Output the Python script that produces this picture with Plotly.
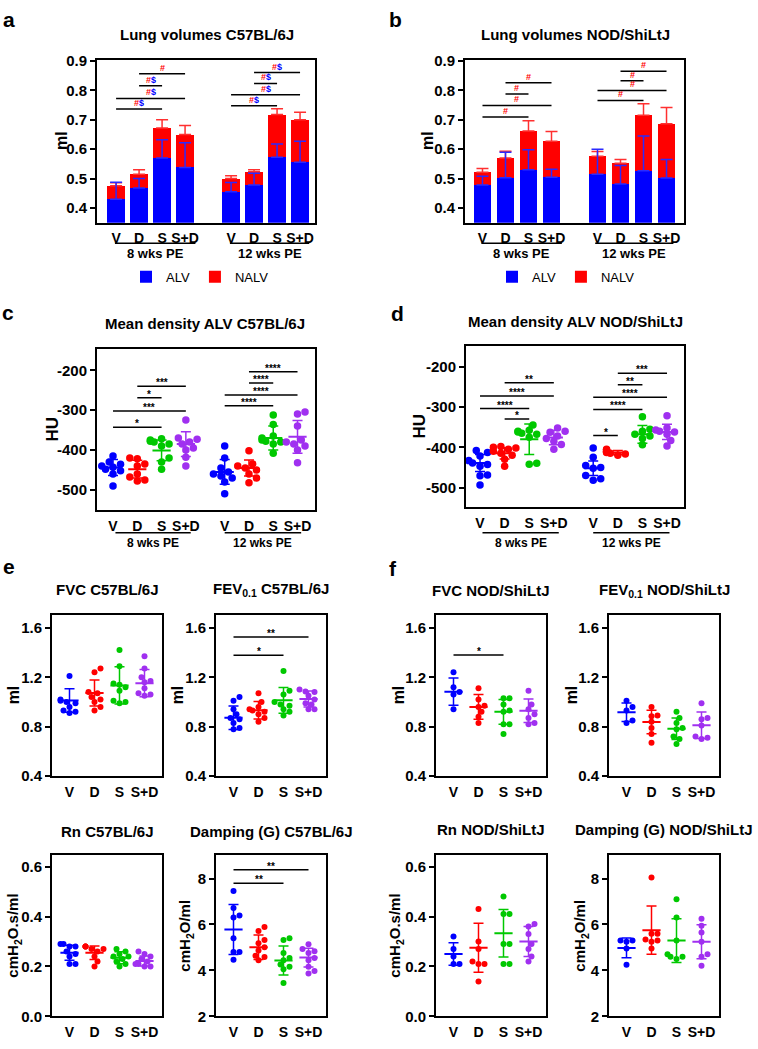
import plotly.graph_objects as go

W, H = 758, 1049
FONT = "Arial, 'Liberation Sans', Helvetica, sans-serif"
BLUE, RED, GREEN, PURPLE = "#0000ff", "#ff0000", "#00c800", "#a030f0"
COLORS = [BLUE, RED, GREEN, PURPLE]
GROUPS = ["V", "D", "S", "S+D"]

# ---------------- a / b : lung volumes (ml) ----------------
bar_pos = [0, 1, 2, 3, 5, 6, 7, 8]
bar_labels = GROUPS * 2

a_alv = [0.430, 0.468, 0.570, 0.538, 0.455, 0.478, 0.573, 0.556]
a_alv_sd = [0.058, 0.032, 0.062, 0.084, 0.032, 0.040, 0.045, 0.071]
a_total = [0.476, 0.515, 0.672, 0.650, 0.500, 0.523, 0.718, 0.700]
a_total_sd = [0.010, 0.015, 0.028, 0.031, 0.010, 0.007, 0.020, 0.026]
a_sig = [(1, 3, 0.857, "#"), (1, 2, 0.816, "#$"), (0, 3, 0.773, "#$"), (0, 2, 0.737, "#$"),
         (5, 7, 0.861, "#$"), (5, 6, 0.824, "#$"), (4, 7, 0.785, "#$"), (4, 6, 0.748, "#$")]

b_alv = [0.478, 0.503, 0.530, 0.505, 0.515, 0.482, 0.527, 0.502]
b_alv_sd = [0.030, 0.087, 0.068, 0.027, 0.085, 0.063, 0.118, 0.063]
b_total = [0.522, 0.570, 0.662, 0.627, 0.576, 0.552, 0.716, 0.687]
b_total_sd = [0.012, 0.023, 0.035, 0.033, 0.016, 0.013, 0.039, 0.055]
b_sig = [(1, 3, 0.826, "#"), (1, 2, 0.788, "#"), (0, 3, 0.749, "#"), (0, 2, 0.710, "#"),
         (5, 7, 0.865, "#"), (5, 6, 0.833, "#"), (4, 7, 0.800, "#"), (4, 6, 0.766, "#")]

# ---------------- c / d : mean density ALV (HU) ----------------
cd_pos = [0, 1, 2, 3, 4.6, 5.6, 6.6, 7.6]

c_pts = [
    [-415, -430, -436, -440, -443, -448, -452, -460, -490],
    [-420, -422, -435, -440, -460, -468, -475, -478],
    [-372, -375, -378, -380, -385, -390, -420, -430, -448],
    [-325, -370, -373, -380, -385, -395, -400, -418, -440],
    [-390, -420, -445, -455, -460, -465, -470, -480, -510],
    [-402, -435, -440, -445, -450, -460, -470, -482],
    [-312, -336, -365, -370, -375, -378, -380, -385, -408],
    [-305, -310, -340, -375, -380, -385, -390, -400, -432],
]
c_mean = [-444, -448, -401, -385, -455, -445, -370, -367]
c_sd = [20, 22, 26, 31, 31, 20, 30, 41]
c_sig = [(1, 3, -240, "***"), (1, 2, -269, "*"), (0, 3, -302, "***"), (0, 2, -343, "*"),
         (5, 7, -204, "****"), (5, 6, -232, "****"), (4, 7, -262, "****"), (4, 6, -289, "****")]

d_pts = [
    [-408, -413, -422, -433, -439, -443, -447, -469, -471, -494],
    [-398, -400, -402, -405, -410, -415, -420, -430, -447],
    [-345, -358, -360, -362, -365, -368, -375, -440, -442],
    [-352, -360, -363, -372, -378, -385, -393, -405],
    [-402, -425, -445, -450, -452, -470, -478, -482],
    [-405, -407, -410, -412, -413, -415, -417, -420],
    [-324, -355, -360, -368, -372, -378, -394],
    [-322, -352, -357, -360, -362, -368, -383, -397],
]
d_mean = [-439, -415, -380, -376, -452, -413, -368, -362]
d_sd = [21, 14, 38, 18, 18, 5, 22, 19]
d_sig = [(1, 3, -240, "**"), (0, 3, -273, "****"), (0, 2, -304, "****"), (1, 2, -330, "*"),
         (5, 7, -216, "***"), (5, 6, -245, "**"), (4, 7, -276, "****"), (4, 6, -306, "****"),
         (4, 5, -371, "*")]

# ---------------- e : lung function C57BL/6J ----------------
e_fvc = [[1.21, 1.02, 1.01, 1.00, 0.99, 0.96, 0.93, 0.92, 0.91],
         [1.27, 1.24, 1.08, 1.07, 1.04, 1.02, 1.00, 0.96, 0.93],
         [1.42, 1.29, 1.15, 1.14, 1.12, 1.09, 1.01, 1.00, 0.99],
         [1.37, 1.27, 1.20, 1.17, 1.16, 1.11, 1.07, 1.06, 1.05]]
e_fvc_mean = [1.011, 1.072, 1.134, 1.152]
e_fvc_sd = [0.095, 0.105, 0.150, 0.110]

e_fev = [[1.04, 1.01, 0.94, 0.90, 0.87, 0.86, 0.83, 0.79, 0.78],
         [1.07, 1.00, 0.96, 0.94, 0.93, 0.92, 0.90, 0.87, 0.84],
         [1.25, 1.09, 1.06, 1.00, 0.98, 0.97, 0.94, 0.92, 0.89],
         [1.10, 1.085, 1.08, 1.05, 1.02, 0.99, 0.98, 0.94, 0.94]]
e_fev_mean = [0.872, 0.933, 1.013, 1.024]
e_fev_sd = [0.095, 0.070, 0.105, 0.065]
e_fev_sig = [(0, 3, 1.526, "**"), (0, 2, 1.378, "*")]

e_rn = [[0.29, 0.29, 0.28, 0.28, 0.26, 0.25, 0.24, 0.21, 0.21],
        [0.28, 0.28, 0.28, 0.27, 0.27, 0.26, 0.24, 0.22, 0.20],
        [0.27, 0.26, 0.25, 0.24, 0.24, 0.23, 0.22, 0.21, 0.20],
        [0.26, 0.25, 0.24, 0.23, 0.22, 0.21, 0.21, 0.20, 0.20]]
e_rn_mean = [0.255, 0.255, 0.235, 0.222]
e_rn_sd = [0.030, 0.027, 0.024, 0.020]

e_g = [[7.46, 6.72, 6.39, 6.30, 5.40, 4.80, 4.80, 4.47],
       [5.89, 5.72, 5.33, 5.18, 5.01, 4.87, 4.64, 4.59, 4.44],
       [5.40, 5.33, 4.76, 4.54, 4.44, 4.26, 4.16, 4.05, 3.45],
       [5.14, 4.93, 4.83, 4.76, 4.54, 4.44, 4.16, 3.97, 3.87]]
e_g_mean = [5.78, 5.01, 4.43, 4.56]
e_g_sd = [1.09, 0.53, 0.63, 0.41]
e_g_sig = [(0, 3, 8.385, "**"), (0, 2, 7.79, "**")]

# ---------------- f : lung function NOD/ShiLtJ ----------------
f_fvc = [[1.24, 1.12, 1.08, 1.06, 0.94],
         [1.11, 1.02, 0.97, 0.96, 0.92, 0.88, 0.83],
         [1.03, 1.03, 0.98, 0.93, 0.92, 0.82, 0.82, 0.74],
         [1.09, 0.98, 0.94, 0.90, 0.87, 0.83, 0.82]]
f_fvc_mean = [1.083, 0.960, 0.920, 0.928]
f_fvc_sd = [0.110, 0.100, 0.100, 0.095]
f_fvc_sig = [(0, 2, 1.381, "*")]

f_fev = [[1.01, 0.96, 0.93, 0.85, 0.83],
         [0.96, 0.89, 0.885, 0.84, 0.79, 0.74, 0.67],
         [0.92, 0.87, 0.83, 0.79, 0.78, 0.72, 0.70, 0.66],
         [0.99, 0.87, 0.86, 0.81, 0.72, 0.71, 0.70]]
f_fev_mean = [0.917, 0.837, 0.784, 0.811]
f_fev_sd = [0.075, 0.095, 0.087, 0.107]

f_rn = [[0.32, 0.27, 0.24, 0.21, 0.21],
        [0.43, 0.30, 0.27, 0.22, 0.21, 0.21, 0.14],
        [0.48, 0.41, 0.41, 0.29, 0.29, 0.21, 0.21],
        [0.37, 0.36, 0.33, 0.29, 0.27, 0.24, 0.22]]
f_rn_mean = [0.250, 0.275, 0.333, 0.300]
f_rn_sd = [0.045, 0.098, 0.095, 0.060]

f_g = [[5.30, 5.30, 5.25, 4.95, 4.25],
       [8.05, 5.60, 5.60, 5.35, 5.30, 5.25, 4.95],
       [7.10, 6.30, 5.30, 4.70, 4.60, 4.60, 4.50],
       [6.25, 5.95, 5.65, 5.25, 4.70, 4.60, 4.20]]
f_g_mean = [4.98, 5.75, 5.30, 5.25]
f_g_sd = [0.43, 1.05, 0.95, 0.74]

fig = go.Figure()
layout_axes = {}
annotations = []
shapes = []


def px(x, y):
    return x / W, 1 - y / H


def add_axes(n, frame, xr, yr, yticks, ytext, xticks, xtext, tsize=15, standoff=2):
    x0, x1, y0, y1 = frame
    sfx = "" if n == 1 else str(n)
    common = dict(showline=True, mirror=True, linewidth=2, linecolor="black",
                  showgrid=False, zeroline=False, fixedrange=True)
    layout_axes["xaxis" + sfx] = dict(domain=[x0 / W, x1 / W], range=xr, anchor="y" + sfx,
                                      tickvals=xticks, ticktext=xtext, ticks="", tickangle=0,
                                      ticklabelstandoff=standoff,
                                      tickfont=dict(size=14, color="black", weight="bold"), **common)
    layout_axes["yaxis" + sfx] = dict(domain=[1 - y1 / H, 1 - y0 / H], range=yr, anchor="x" + sfx,
                                      tickvals=yticks, ticktext=ytext, ticks="outside",
                                      ticklen=5, tickwidth=2, tickcolor="black",
                                      tickfont=dict(size=tsize, color="black", weight="bold"), **common)
    return "x" + sfx, "y" + sfx


def add_sig(xa, ya, pos, sig, size=10, color_marks=False):
    for i, j, y, txt in sig:
        shapes.append(dict(type="line", xref=xa, yref=ya, x0=pos[i], x1=pos[j], y0=y, y1=y,
                           line=dict(color="black", width=1.5)))
        if color_marks:
            txt = txt.replace("#", f'<span style="color:{RED}">#</span>').replace(
                "$", f'<span style="color:{BLUE}">$</span>')
        annotations.append(dict(xref=xa, yref=ya, x=(pos[i] + pos[j]) / 2, y=y, text=txt,
                                showarrow=False, yanchor="bottom", yshift=-4 if not color_marks else -1,
                                font=dict(size=size, color="black", weight="bold")))


def swarm(values, center, frame, xr, yr, size):
    # spread overlapping dots sideways, like a column scatter plot
    x0, x1, y0, y1 = frame
    ppy = (y1 - y0) / (yr[1] - yr[0])
    ppx = (x1 - x0) / (xr[1] - xr[0])
    placed, xs = [], [0.0] * len(values)
    order = sorted(range(len(values)), key=lambda k: values[k])
    for k in order:
        py = values[k] * ppy
        dx = 0.0
        for step in [0, 1, -1, 2, -2, 3, -3]:
            dx = step * size * 0.5
            if all((dx - ox) ** 2 + (py - oy) ** 2 >= (size * 0.85) ** 2 for ox, oy in placed):
                break
        placed.append((dx, py))
        xs[k] = center + dx / ppx
    return xs


def scatter_panel(xa, ya, frame, xr, yr, pos, pts, means, sds, colors, msize, mean_len):
    for k, vals in enumerate(pts):
        c = colors[k]
        fig.add_trace(go.Scatter(x=swarm(vals, pos[k], frame, xr, yr, msize), y=vals,
                                 xaxis=xa, yaxis=ya, mode="markers", showlegend=False,
                                 marker=dict(size=msize, color=c), hoverinfo="skip"))
        fig.add_trace(go.Scatter(x=[pos[k]], y=[means[k]], xaxis=xa, yaxis=ya, mode="markers",
                                 showlegend=False, hoverinfo="skip",
                                 marker=dict(symbol="line-ew", size=mean_len, color=c,
                                             line=dict(color=c, width=2)),
                                 error_y=dict(type="data", array=[sds[k]], color=c,
                                              thickness=1.5, width=5)))


def bar_panel(n, frame, xr, alv, alv_sd, total, total_sd, sig, legend):
    xa, ya = add_axes(n, frame, xr, [0.35, 0.903], [0.4, 0.5, 0.6, 0.7, 0.8, 0.9],
                      ["0.4", "0.5", "0.6", "0.7", "0.8", "0.9"], bar_pos, bar_labels, tsize=15)
    fig.add_trace(go.Bar(x=bar_pos, y=alv, xaxis=xa, yaxis=ya, width=0.78, name="ALV",
                         marker=dict(color=BLUE, line=dict(width=0)), legend=legend))
    fig.add_trace(go.Bar(x=bar_pos, y=[t - a for t, a in zip(total, alv)], xaxis=xa, yaxis=ya,
                         width=0.78, name="NALV", marker=dict(color=RED, line=dict(width=0)),
                         legend=legend))
    fig.add_trace(go.Scatter(x=bar_pos, y=total, xaxis=xa, yaxis=ya, mode="markers",
                             marker=dict(size=1, opacity=0), showlegend=False, hoverinfo="skip",
                             error_y=dict(type="data", symmetric=False, array=total_sd,
                                          arrayminus=[0] * 8, color="#ff3030", thickness=1.5, width=6)))
    fig.add_trace(go.Scatter(x=bar_pos, y=alv, xaxis=xa, yaxis=ya, mode="markers",
                             marker=dict(size=1, opacity=0), showlegend=False, hoverinfo="skip",
                             error_y=dict(type="data", symmetric=False, array=alv_sd,
                                          arrayminus=[0] * 8, color="#2a2aff", thickness=1.5, width=6)))
    add_sig(xa, ya, bar_pos, sig, size=9, color_marks=True)


# panel a / b
bar_panel(1, (97, 315, 53, 218), [-0.83, 8.65], a_alv, a_alv_sd, a_total, a_total_sd,
          a_sig, "legend")
bar_panel(2, (465, 684, 53, 218), [-0.76, 8.76], b_alv, b_alv_sd, b_total, b_total_sd,
          b_sig, "legend2")

# panel c / d
hu_ticks = [-500, -400, -300, -200]
hu_text = [str(v) for v in hu_ticks]
for n, frame, xr, yr, pts, means, sds, sig in [
        (3, (97, 315, 346, 510), [-0.66, 8.32], [-551, -146], c_pts, c_mean, c_sd, c_sig),
        (4, (466, 684, 343, 507), [-0.57, 8.29], [-549, -148], d_pts, d_mean, d_sd, d_sig)]:
    xa, ya = add_axes(n, frame, xr, yr, hu_ticks, hu_text, cd_pos, bar_labels, tsize=15)
    scatter_panel(xa, ya, frame, xr, yr, cd_pos, pts, means, sds, COLORS * 2, 7.5, 13)
    add_sig(xa, ya, cd_pos, sig, size=10)

# panels e / f
pos4 = [0, 1, 2, 3]
xr4 = [-0.7, 3.7]
ml_ticks, ml_text = [0.4, 0.8, 1.2, 1.6], ["0.4", "0.8", "1.2", "1.6"]
rn_ticks, rn_text = [0.0, 0.2, 0.4, 0.6], ["0.0", "0.2", "0.4", "0.6"]
g_ticks, g_text = [2, 4, 6, 8], ["2", "4", "6", "8"]
small = [
    (5, (52, 162, 616, 780), [0.4, 1.707], ml_ticks, ml_text, e_fvc, e_fvc_mean, e_fvc_sd, []),
    (6, (216, 326, 616, 780), [0.4, 1.707], ml_ticks, ml_text, e_fev, e_fev_mean, e_fev_sd, e_fev_sig),
    (7, (52, 162, 860, 1024), [0, 0.647], rn_ticks, rn_text, e_rn, e_rn_mean, e_rn_sd, []),
    (8, (216, 326, 860, 1024), [2, 9.03], g_ticks, g_text, e_g, e_g_mean, e_g_sd, e_g_sig),
    (9, (436, 546, 616, 780), [0.4, 1.707], ml_ticks, ml_text, f_fvc, f_fvc_mean, f_fvc_sd, f_fvc_sig),
    (10, (609, 719, 616, 780), [0.4, 1.707], ml_ticks, ml_text, f_fev, f_fev_mean, f_fev_sd, []),
    (11, (436, 546, 860, 1024), [0, 0.647], rn_ticks, rn_text, f_rn, f_rn_mean, f_rn_sd, []),
    (12, (609, 719, 860, 1024), [2, 9.03], g_ticks, g_text, f_g, f_g_mean, f_g_sd, []),
]
for n, frame, yr, yt, ytt, pts, means, sds, sig in small:
    xa, ya = add_axes(n, frame, xr4, yr, yt, ytt, pos4, GROUPS, tsize=15, standoff=2)
    scatter_panel(xa, ya, frame, xr4, yr, pos4, pts, means, sds, COLORS, 6, 13)
    add_sig(xa, ya, pos4, sig, size=10)

# group underlines + labels (a-d)
for xa, yl, yt, fs, spans in [("x", 239, 249, 13, [(-0.05, 3.45), (4.95, 8.4)]),
                              ("x2", 239, 249, 13, [(-0.05, 3.45), (4.9, 8.3)]),
                              ("x3", 533, 543, 12, [(0.1, 3.2), (4.6, 7.75)]),
                              ("x4", 533, 543, 12, [(0.1, 3.2), (4.6, 7.7)])]:
    for (s0, s1), lab in zip(spans, ["8 wks PE", "12 wks PE"]):
        shapes.append(dict(type="line", xref=xa, yref="paper", x0=s0, x1=s1,
                           y0=1 - yl / H, y1=1 - yl / H, line=dict(color="black", width=1.5)))
        annotations.append(dict(xref=xa, yref="paper", x=(s0 + s1) / 2, y=1 - yt / H, text=lab,
                                showarrow=False, yanchor="middle",
                                font=dict(size=fs, weight="bold")))


def label(x, y, text, size, angle=0, weight="bold"):
    fx, fy = px(x, y)
    annotations.append(dict(xref="paper", yref="paper", x=fx, y=fy, text=text, showarrow=False,
                            textangle=angle, xanchor="center", yanchor="middle",
                            font=dict(size=size, weight=weight)))


# titles
for x, y, t in [(207, 27, "Lung volumes C57BL/6J"), (575, 27, "Lung volumes NOD/ShiLtJ"),
                (205, 320, "Mean density ALV C57BL/6J"), (575, 318, "Mean density ALV NOD/ShiLtJ"),
                (107, 591, "FVC C57BL/6J"), (271, 591, "FEV<sub>0.1</sub> C57BL/6J"),
                (107, 836, "Rn C57BL/6J"), (271, 836, "Damping (G) C57BL/6J"),
                (491, 592, "FVC NOD/ShiLtJ"), (664, 592, "FEV<sub>0.1</sub> NOD/ShiLtJ"),
                (491, 834, "Rn NOD/ShiLtJ"), (664, 834, "Damping (G) NOD/ShiLtJ")]:
    label(x, y, t, 15)

# panel letters
for x, y, t in [(9, 12, "a"), (395, 12, "b"), (8, 309, "c"), (397, 310, "d"),
                (9, 567, "e"), (393, 569, "f")]:
    label(x, y, t, 21)

# y axis titles
for x, y, t, s in [(62, 135, "ml", 16), (428, 135, "ml", 16), (52, 428, "HU", 17), (420, 425, "HU", 17),
                   (13, 698, "ml", 16), (177, 698, "ml", 16), (398, 698, "ml", 16), (571, 698, "ml", 16),
                   (14, 942, "cmH<sub>2</sub>O.s/ml", 15), (186, 942, "cmH<sub>2</sub>O/ml", 15),
                   (396, 942, "cmH<sub>2</sub>O.s/ml", 15), (581, 942, "cmH<sub>2</sub>O/ml", 15)]:
    label(x, y, t, s, angle=-90)

legend_style = dict(orientation="h", xanchor="left", yanchor="middle", font=dict(size=13),
                    bgcolor="rgba(0,0,0,0)", itemsizing="constant", traceorder="normal")
fig.update_layout(
    width=W, height=H, margin=dict(l=0, r=0, t=0, b=0),
    paper_bgcolor="white", plot_bgcolor="white", barmode="stack",
    font=dict(family=FONT, color="black"),
    legend=dict(x=px(126, 273)[0], y=px(126, 273)[1], **legend_style),
    legend2=dict(x=px(492, 273)[0], y=px(492, 273)[1], **legend_style),
    annotations=annotations, shapes=shapes, hovermode=False,
    **layout_axes,
)

fig.write_html("out.html", config={"displayModeBar": False},
               post_script="document.body.style.margin='0px';")
